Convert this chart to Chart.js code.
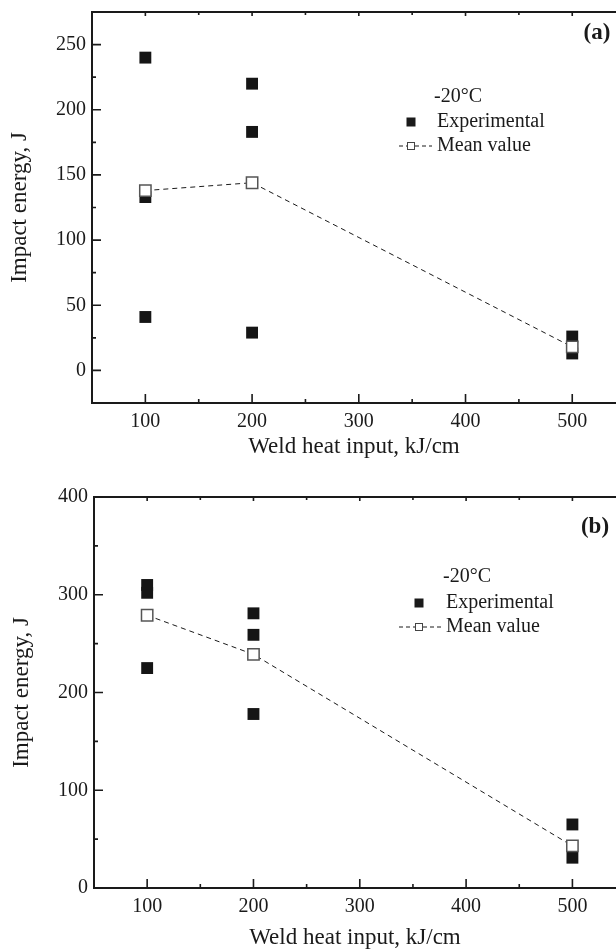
<!DOCTYPE html>
<html><head><meta charset="utf-8">
<script src="https://cdn.jsdelivr.net/npm/chart.js@4.4.1/dist/chart.umd.min.js"></script>
<style>
html,body{margin:0;padding:0;background:#fff;}
#wrap{position:relative;width:616px;height:950px;overflow:hidden;background:#fff;}
canvas{position:absolute;left:0;}
</style></head><body>
<div id="wrap">
<canvas id="ca" width="616" height="475" style="top:0px"></canvas>
<canvas id="cb" width="616" height="475" style="top:475px"></canvas>
</div>
<script>
// ---- data ----
const heatInput = [100, 200, 500];
const xTicks = [100, 200, 300, 400, 500];
const xMinor = [150, 250, 350, 450];

// panel (a)
const expA_x = [100, 100, 100, 200, 200, 200, 500, 500];
const expA_y = [240, 133, 41, 220, 183, 29, 26, 13];
const meanA = [138, 144, 18];
const yTicksA = [0, 50, 100, 150, 200, 250];
const yMinorA = [25, 75, 125, 175, 225];

// panel (b)
const expB_x = [100, 100, 100, 200, 200, 200, 500, 500];
const expB_y = [310, 302, 225, 281, 259, 178, 65, 31];
const meanB = [279, 239, 43];
const yTicksB = [0, 100, 200, 300, 400];
const yMinorB = [50, 150, 250, 350];

const FAM = "'Liberation Serif', 'Times New Roman', serif";
const INK = '#1a1a1a';

const framePlugin = {
  id: 'frameTicks',
  afterDraw(chart, args, opts) {
    const ctx = chart.ctx, a = chart.chartArea;
    const xs = chart.scales.x, ys = chart.scales.y;
    ctx.save();
    ctx.strokeStyle = INK;
    ctx.lineWidth = 2;
    ctx.beginPath();
    ctx.moveTo(a.left, a.top); ctx.lineTo(a.right + 2, a.top);
    ctx.moveTo(a.left, a.top - 1); ctx.lineTo(a.left, a.bottom + 1);
    ctx.moveTo(a.left - 1, a.bottom); ctx.lineTo(a.right + 2, a.bottom);
    ctx.stroke();
    ctx.lineWidth = 1.6;
    ctx.beginPath();
    const tick = (vals, len, topLen) => {
      vals.forEach(v => {
        const px = xs.getPixelForValue(v);
        ctx.moveTo(px, a.bottom); ctx.lineTo(px, a.bottom - len);
        ctx.moveTo(px, a.top); ctx.lineTo(px, a.top + topLen);
      });
    };
    tick(xTicks, 9, 4);
    tick(xMinor, 4, 3);
    opts.yMajor.forEach(v => {
      const py = ys.getPixelForValue(v);
      ctx.moveTo(a.left, py); ctx.lineTo(a.left + 9, py);
    });
    opts.yMinor.forEach(v => {
      const py = ys.getPixelForValue(v);
      ctx.moveTo(a.left, py); ctx.lineTo(a.left + 4, py);
    });
    ctx.stroke();
    ctx.restore();
  }
};

const annotPlugin = {
  id: 'annot',
  afterDraw(chart, args, o) {
    const ctx = chart.ctx;
    ctx.save();
    ctx.fillStyle = INK;
    ctx.textBaseline = 'middle';
    ctx.textAlign = 'left';
    ctx.font = '20px ' + FAM;
    ctx.fillText('-20°C', o.titleX, o.titleY);
    // experimental row
    ctx.fillRect(o.markX - 4.5, o.row1 - 4.5, 9, 9);
    ctx.fillText('Experimental', o.textX, o.row1);
    // mean row
    ctx.strokeStyle = INK;
    ctx.lineWidth = 1;
    ctx.setLineDash([4, 3]);
    ctx.beginPath();
    ctx.moveTo(o.lineX0, o.row2); ctx.lineTo(o.markX - 4, o.row2);
    ctx.moveTo(o.markX + 4, o.row2); ctx.lineTo(o.lineX1, o.row2);
    ctx.stroke();
    ctx.setLineDash([]);
    ctx.fillStyle = '#fff';
    ctx.fillRect(o.markX - 3.5, o.row2 - 3.5, 7, 7);
    ctx.strokeStyle = '#444';
    ctx.strokeRect(o.markX - 3.5, o.row2 - 3.5, 7, 7);
    ctx.fillStyle = INK;
    ctx.fillText('Mean value', o.textX, o.row2);
    // panel label
    ctx.font = 'bold 23px ' + FAM;
    ctx.textAlign = 'center';
    ctx.fillText(o.label, o.labelX, o.labelY);
    ctx.restore();
  }
};

function makeChart(id, p) {
  const ctx = document.getElementById(id);
  return new Chart(ctx, {
    type: 'scatter',
    data: {
      datasets: [
        {
          type: 'line',
          label: 'Mean value',
          data: heatInput.map((x, i) => ({ x: x, y: p.mean[i] })),
          borderColor: INK,
          borderWidth: 1,
          borderDash: [5, 4],
          fill: false,
          tension: 0,
          pointStyle: 'rect',
          pointRadius: 8,
          pointBackgroundColor: '#fff',
          pointBorderColor: '#555',
          pointBorderWidth: 1.5,
          order: 0
        },
        {
          label: 'Experimental',
          data: p.expX.map((x, i) => ({ x: x, y: p.expY[i] })),
          pointStyle: 'rect',
          pointRadius: 8.4,
          backgroundColor: '#151515',
          borderColor: '#151515',
          borderWidth: 0,
          order: 1
        }
      ]
    },
    options: {
      responsive: false,
      animation: false,
      devicePixelRatio: 1,
      layout: { autoPadding: false, padding: { left: 0, right: 0, top: p.padTop, bottom: 0 } },
      plugins: {
        legend: { display: false },
        tooltip: { enabled: false },
        frameTicks: { yMajor: p.yTicks, yMinor: p.yMinor },
        annot: p.annot
      },
      scales: {
        x: {
          type: 'linear',
          position: 'bottom',
          min: 50,
          max: 541,
          afterBuildTicks: s => { s.ticks = xTicks.map(v => ({ value: v })); },
          afterFit: s => { s.height = p.xAxisH; s.paddingLeft = 0; s.paddingRight = 0; },
          grid: { display: false, drawTicks: false },
          border: { display: false },
          ticks: { font: { family: FAM, size: 20 }, color: INK, padding: 7, maxRotation: 0, autoSkip: false },
          title: {
            display: true, text: 'Weld heat input, kJ/cm', color: INK,
            font: { family: FAM, size: 23, lineHeight: p.xTitleLH },
            padding: { top: 0, bottom: p.xTitlePad }
          }
        },
        y: {
          type: 'linear',
          position: 'left',
          min: p.yMin,
          max: p.yMax,
          afterBuildTicks: s => { s.ticks = p.yTicks.map(v => ({ value: v })); },
          afterFit: s => { s.width = p.yAxisW; s.paddingTop = 0; s.paddingBottom = 0; },
          grid: { display: false, drawTicks: false },
          border: { display: false },
          ticks: { font: { family: FAM, size: 20 }, color: INK, padding: 6, autoSkip: false },
          title: {
            display: true, text: 'Impact energy, J', color: INK,
            font: { family: FAM, size: 23, lineHeight: 1.2 },
            padding: { top: p.yTitlePad, bottom: 0 }
          }
        }
      }
    },
    plugins: [framePlugin, annotPlugin]
  });
}

makeChart('ca', {
  expX: expA_x, expY: expA_y, mean: meanA,
  yMin: -25, yMax: 275, yTicks: yTicksA, yMinor: yMinorA,
  padTop: 12, xAxisH: 72, xTitleLH: 1.2, xTitlePad: 14.2, yAxisW: 92, yTitlePad: 6.2,
  annot: { titleX: 434, titleY: 97, markX: 411, row1: 122, row2: 146, textX: 437,
           lineX0: 399, lineX1: 432, label: '(a)', labelX: 597, labelY: 33 }
});

makeChart('cb', {
  expX: expB_x, expY: expB_y, mean: meanB,
  yMin: 0, yMax: 400, yTicks: yTicksB, yMinor: yMinorB,
  padTop: 22, xAxisH: 62, xTitleLH: 1.0, xTitlePad: 0.5, yAxisW: 94, yTitlePad: 8.2,
  annot: { titleX: 443, titleY: 102, markX: 419, row1: 128, row2: 152, textX: 446,
           lineX0: 399, lineX1: 441, label: '(b)', labelX: 595, labelY: 52 }
});
</script>
</body></html>
